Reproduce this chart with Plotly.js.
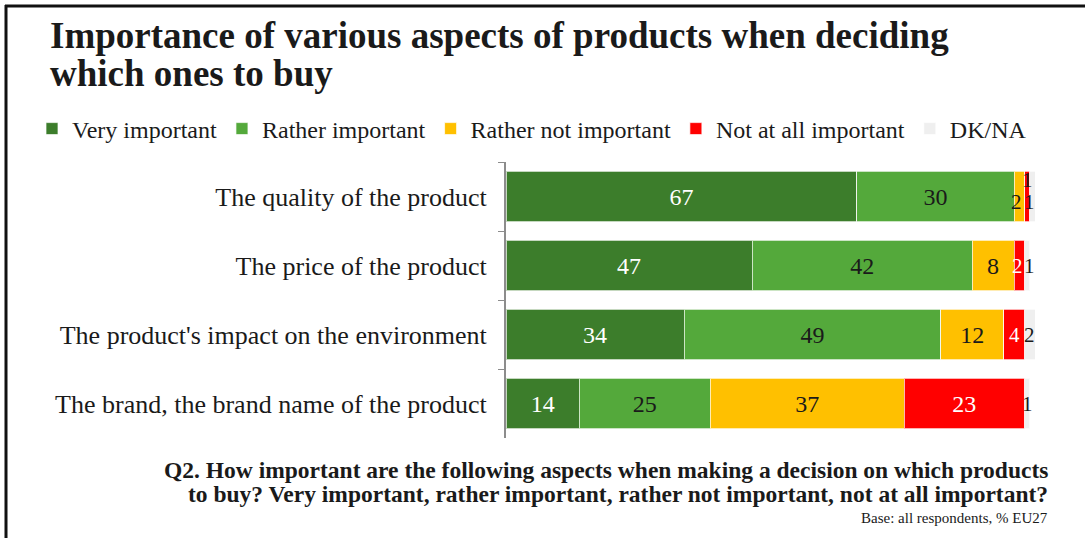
<!DOCTYPE html>
<html>
<head>
<meta charset="utf-8">
<script src="https://cdn.plot.ly/plotly-3.0.1.min.js"></script>
<style>html,body{margin:0;padding:0;background:#fff;}#chart{width:1085px;height:538px;}</style>
</head>
<body>
<div id="chart"></div>
<script>
// ---- data ----
const categories = [
  "The quality of the product",
  "The price of the product",
  "The product's impact on the environment",
  "The brand, the brand name of the product"
];
const seriesNames = ["Very important", "Rather important", "Rather not important", "Not at all important", "DK/NA"];
const veryImportant      = [67, 47, 34, 14];
const ratherImportant    = [30, 42, 49, 25];
const ratherNotImportant = [2, 8, 12, 37];
const notAtAllImportant  = [1, 2, 4, 23];
const dkNa               = [1, 1, 2, 1];

const titleLines = ["Importance of various aspects of products when deciding", "which ones to buy"];
const footLine1 = "Q2. How important are the following aspects when making a decision on which products";
const footLine2 = "to buy? Very important, rather important, rather not important, not at all important?";
const footLine3 = "Base: all respondents, % EU27";

// ---- styling ----
const W = 1085, H = 538;
const M = {l: 506, r: 50, t: 162, b: 100};
const XMAX = 101;
const colors = ["#3c7d2b", "#54a93b", "#ffc000", "#ff0000", "#efefef"];
const textColors = ["#ffffff", "#1a1a1a", "#1a1a1a", "#ffffff", "#1a1a1a"];
const FONT = "Liberation Serif, Times New Roman, serif";
const allSeries = [veryImportant, ratherImportant, ratherNotImportant, notAtAllImportant, dkNa];
const SMALL = 5;

const plotW = W - M.l - M.r, plotH = H - M.t - M.b;
const px2x = px => (px - M.l) / plotW;
const px2y = py => (H - M.b - py) / plotH;

const traces = allSeries.map((vals, s) => ({
  type: "bar",
  orientation: "h",
  name: seriesNames[s],
  y: categories,
  x: vals,
  marker: {color: colors[s], line: {color: "rgba(255,255,255,0.7)", width: 1}},
  text: vals.map(v => v >= SMALL ? String(v) : ""),
  textposition: "inside",
  insidetextanchor: "middle",
  constraintext: "none",
  textfont: {family: FONT, size: 24, color: textColors[s]},
  hoverinfo: "name+x"
}));

// small-value labels, positioned through the data scale (pixel nudges / colour overrides only)
const nudges = {"0|2": [-3, -5], "0|3": [2, -5], "0|4": [-5, 17], "1|3": [-2, 0], "1|4": [2, 0]};
const labelColorOverride = {"0|3": "#1a1a1a"};
const annotations = [];
categories.forEach((cat, i) => {
  let cum = 0;
  allSeries.forEach((vals, s) => {
    const v = vals[i];
    if (v > 0 && v < SMALL) {
      const key = i + "|" + s;
      const n = nudges[key] || [0, 0];
      annotations.push({
        x: cum + v / 2, y: cat, xref: "x", yref: "y",
        text: String(v), showarrow: false,
        xshift: n[0], yshift: n[1],
        font: {family: FONT, size: 21, color: labelColorOverride[key] || textColors[s]}
      });
    }
    cum += v;
  });
});

// title lines
const titleFont = {family: FONT, size: 37, color: "#1a1a1a"};
[36, 74].forEach((py, k) => annotations.push({
  xref: "paper", yref: "paper", x: px2x(48), y: px2y(py), xanchor: "left", yanchor: "middle",
  text: "<b>" + titleLines[k] + "</b>", showarrow: false, font: titleFont
}));

const footFont = {family: FONT, size: 23.5, color: "#1a1a1a"};
annotations.push(
  {xref: "paper", yref: "paper", x: px2x(1050), y: px2y(470), xanchor: "right", yanchor: "middle",
   text: "<b>" + footLine1 + "</b>", showarrow: false, font: footFont},
  {xref: "paper", yref: "paper", x: px2x(1050), y: px2y(494), xanchor: "right", yanchor: "middle",
   text: "<b>" + footLine2 + "</b>", showarrow: false, font: footFont},
  {xref: "paper", yref: "paper", x: px2x(1050), y: px2y(518), xanchor: "right", yanchor: "middle",
   text: footLine3, showarrow: false, font: {family: FONT, size: 15, color: "#1a1a1a"}}
);

const layout = {
  width: W, height: H,
  margin: M,
  paper_bgcolor: "#ffffff", plot_bgcolor: "#ffffff",
  barmode: "stack",
  bargap: 0.275,
  showlegend: true,
  legend: {
    orientation: "h", xref: "paper", yref: "paper",
    x: px2x(32), y: px2y(129), xanchor: "left", yanchor: "middle",
    font: {family: FONT, size: 24, color: "#1a1a1a"},
    traceorder: "normal", itemclick: false, bgcolor: "rgba(0,0,0,0)"
  },
  xaxis: {range: [0, XMAX], visible: false, fixedrange: true},
  yaxis: {
    autorange: "reversed", type: "category",
    showline: true, linecolor: "#8c8c8c", linewidth: 2,
    ticks: "outside", tickson: "boundaries", ticklen: 6, tickcolor: "#8c8c8c", tickwidth: 1,
    showgrid: false, zeroline: false,
    tickfont: {family: FONT, size: 26, color: "#1a1a1a"},
    ticklabelstandoff: 12, fixedrange: true
  },
  annotations: annotations,
  shapes: [
    {type: "line", xref: "paper", yref: "paper", x0: px2x(5), x1: px2x(1085), y0: px2y(6), y1: px2y(6),
     line: {color: "#111111", width: 3}},
    {type: "line", xref: "paper", yref: "paper", x0: px2x(6), x1: px2x(6), y0: px2y(5), y1: px2y(538),
     line: {color: "#111111", width: 3}}
  ]
};

Plotly.newPlot("chart", traces, layout, {displayModeBar: false, staticPlot: true});
</script>
</body>
</html>
